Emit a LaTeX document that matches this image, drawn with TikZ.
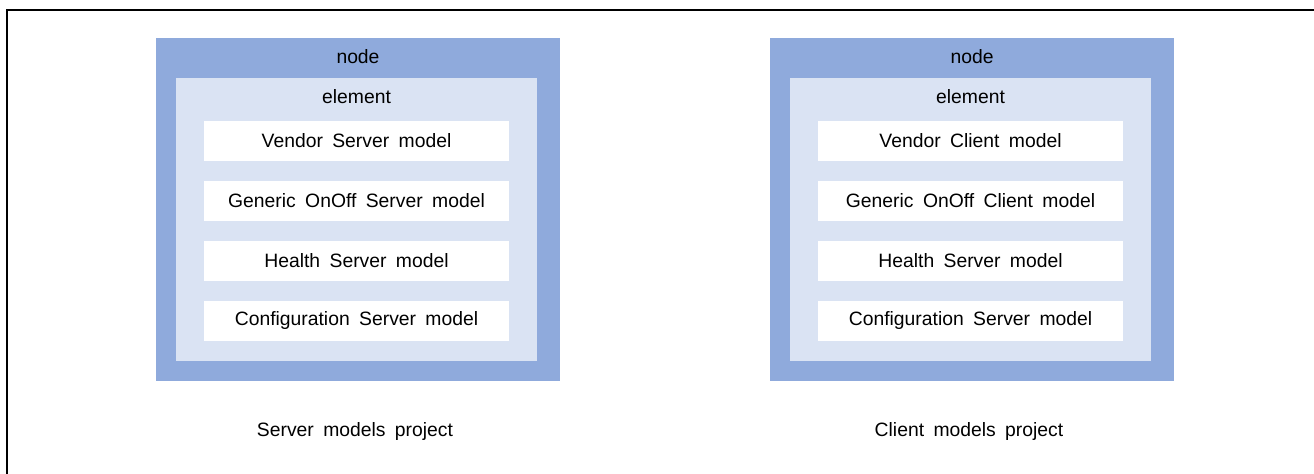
\documentclass[tikz,border=0pt]{standalone}
\usepackage{fontspec}
\setmainfont{Liberation Sans}[WordSpace=1.75]
\definecolor{nodeblue}{RGB}{143,170,220}
\definecolor{elemblue}{RGB}{218,227,243}
\tikzset{
  nodebox/.style={fill=nodeblue, minimum width=8.08cm, minimum height=6.86cm, inner sep=0pt},
  elembox/.style={fill=elemblue, minimum width=7.22cm, minimum height=5.66cm, inner sep=0pt},
  modelbox/.style={fill=white, minimum width=6.1cm, minimum height=0.8cm, inner sep=0pt},
  lbl/.style={inner sep=0pt}
}

\begin{document}
\begin{tikzpicture}[font=\fontsize{11}{13}\selectfont]
\useasboundingbox (0,0) rectangle (26.28,9.48);
\draw[line width=1.14pt] (0.14,0) -- (0.14,9.28) -- (26.28,9.28);

\node[nodebox] (n1) at (7.16,5.29) {};
\node[elembox] (e1) at (7.13,5.09) {};
\node[lbl] (n1lbl) at (7.16,8.34) {node};
\node[lbl] (e1lbl) at (7.13,7.54) {element};
\node[modelbox] (s1) at (7.13,6.66) {Vendor Server model};
\node[modelbox] (s2) at (7.13,5.46) {Generic OnOff Server model};
\node[modelbox] (s3) at (7.13,4.26) {Health Server model};
\node[modelbox] (s4) at (7.13,3.06) {Configuration Server model};
\node[lbl] (p1) at (7.10,0.84) {Server models project};

\node[nodebox] (n2) at (19.44,5.29) {};
\node[elembox] (e2) at (19.41,5.09) {};
\node[lbl] (n2lbl) at (19.44,8.34) {node};
\node[lbl] (e2lbl) at (19.41,7.54) {element};
\node[modelbox] (c1) at (19.41,6.66) {Vendor Client model};
\node[modelbox] (c2) at (19.41,5.46) {Generic OnOff Client model};
\node[modelbox] (c3) at (19.41,4.26) {Health Server model};
\node[modelbox] (c4) at (19.41,3.06) {Configuration Server model};
\node[lbl] (p2) at (19.38,0.84) {Client models project};
\end{tikzpicture}
\end{document}
